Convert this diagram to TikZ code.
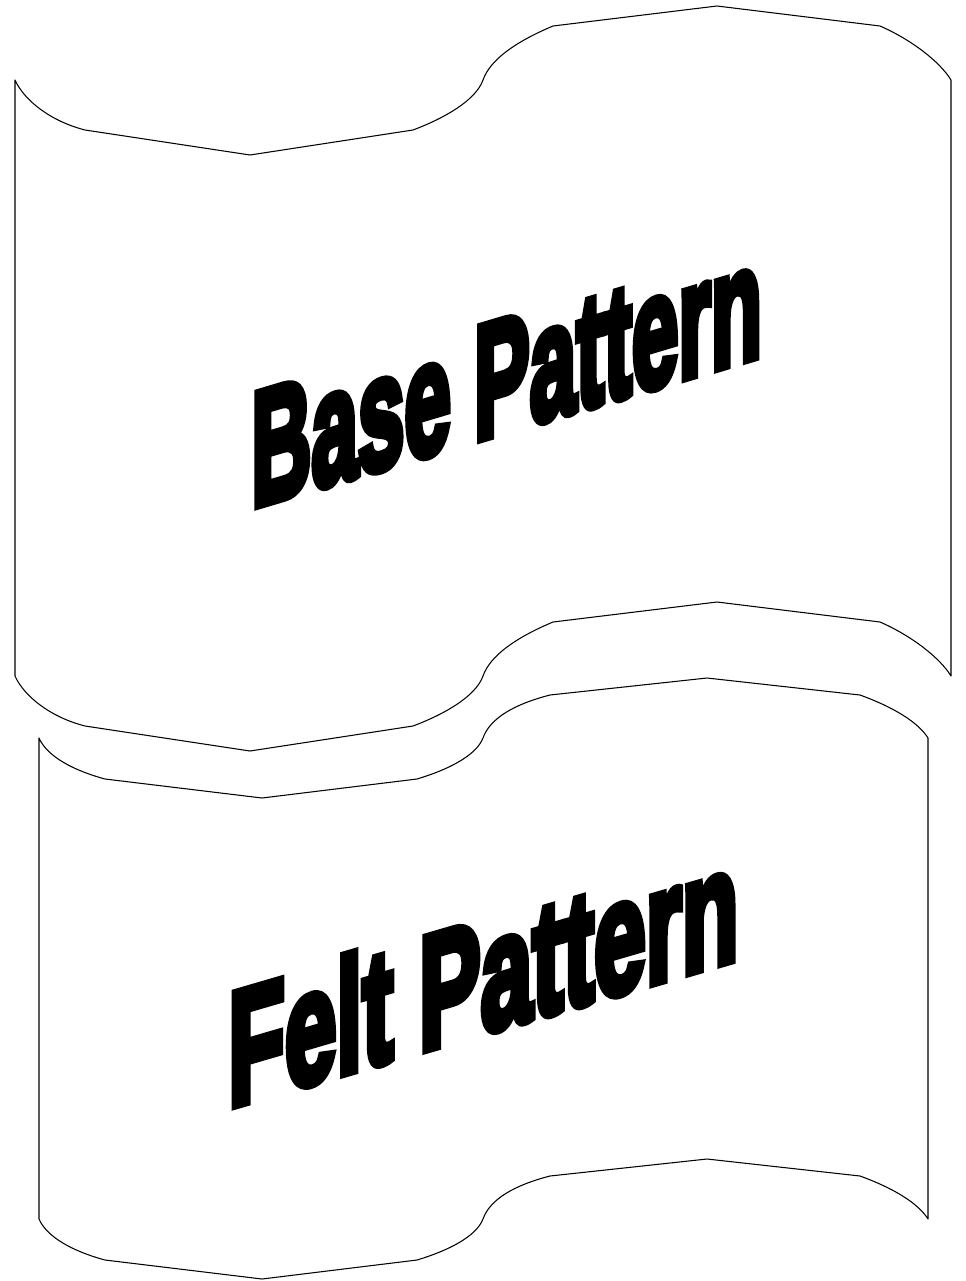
\documentclass[tikz,border=0pt]{standalone}
\usepackage{fontspec}
\newfontfamily\artfont{Liberation Sans}[BoldFeatures={FakeBold=6}]
\usetikzlibrary{positioning}
\definecolor{ink}{HTML}{000000}

\begin{document}
\begin{tikzpicture}[x=0.02cm, y=-0.02cm,
  banner/.style={draw=ink, fill=white, line width=0.6pt, line join=round},
  arttext/.style={inner sep=0pt, anchor=base west, text=ink, font=\artfont\bfseries\fontsize{92pt}{100pt}\selectfont}]
\useasboundingbox (0,0) rectangle (965,1281);
\draw[banner] (15,80) .. controls (24,100) and (50,121) .. (85,130) -- (250,155) -- (413,130)
  .. controls (445,118) and (476,100) .. (483,80) .. controls (490,60) and (515,42) .. (553,26)
  -- (717,6) -- (880,26) .. controls (912,40) and (940,62) .. (951,80) -- (951,676)
  .. controls (940,658) and (912,636) .. (880,622) -- (717,602) -- (553,622)
  .. controls (515,638) and (490,656) .. (483,676) .. controls (476,696) and (445,714) .. (413,726)
  -- (250,751) -- (85,726) .. controls (50,717) and (24,696) .. (15,676) -- cycle;
\draw[banner] (39,738) .. controls (47,756) and (72,770) .. (105,779) -- (262,798) -- (417,779)
  .. controls (447,770) and (476,756) .. (483,738) .. controls (490,718) and (515,704) .. (550,695)
  -- (707,678) -- (860,695) .. controls (893,707) and (918,722) .. (928,738) -- (928,1219)
  .. controls (918,1203) and (893,1188) .. (860,1176) -- (707,1159) -- (550,1176)
  .. controls (515,1185) and (490,1199) .. (483,1219) .. controls (476,1237) and (447,1251) .. (417,1260)
  -- (262,1279) -- (105,1260) .. controls (72,1251) and (47,1237) .. (39,1219) -- cycle;
\node[arttext, yslant=0.298, xscale=0.517] (base) at (251,507) {Base Pattern};
\node[arttext, yslant=0.292, xscale=0.574] (felt) at (228,1107) {Felt Pattern};
\end{tikzpicture}
\end{document}
